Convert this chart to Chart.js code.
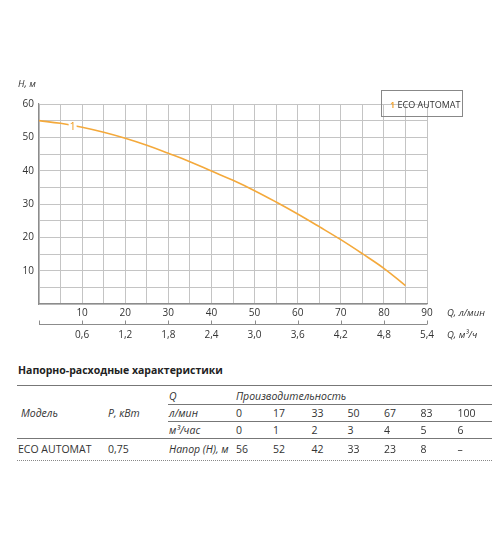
<!DOCTYPE html>
<html>
<head>
<meta charset="utf-8">
<script src="https://cdn.jsdelivr.net/npm/chart.js@4.4.1/dist/chart.umd.min.js"></script>
<style>
body{margin:0;background:#fff;}
#wrap{position:relative;width:500px;height:538px;font-family:"Open Sans",sans-serif;color:#333;}
#c{position:absolute;left:0;top:0;}
.t{position:absolute;white-space:nowrap;transform:translateY(-50%);line-height:1;}
.i{font-style:italic;}
.hl{position:absolute;height:0;border-top:1px solid #777;}
</style>
</head>
<body>
<div id="wrap">
  <canvas id="c" width="500" height="350"></canvas>
  <div class="t i" style="left:18px;top:84px;font-size:9.5px">H, м</div>
  <div class="t i" style="left:447px;top:313px;font-size:9.5px">Q, л/мин</div>
  <div class="t i" style="left:447px;top:335px;font-size:9.5px">Q, м³/ч</div>
  <div style="position:absolute;left:381px;top:90px;width:80px;height:25px;border:1px solid #888;"></div>
  <div class="t" style="left:390px;top:104px;font-size:9px"><span style="color:#f09a1a;font-weight:600">1</span> ECO AUTOMAT</div>
  <div id="table"></div>
</div>
<script>
// chart data
const curveQ = [0, 5, 10, 15, 20, 25, 30, 35, 40, 45, 50, 55, 60, 65, 70, 75, 80, 85];
const curveH = [55, 54.2, 53, 51.5, 49.7, 47.6, 45.2, 42.7, 39.9, 37.1, 34, 30.6, 27, 23.2, 19.3, 15.1, 10.7, 5.5];

// table data
const flowLpm = [0, 17, 33, 50, 67, 83, 100];
const flowM3 = [0, 1, 2, 3, 4, 5, 6];
const headM = ['56', '52', '42', '33', '23', '8', '–'];
const modelName = 'ECO AUTOMAT';
const powerKw = '0,75';

const orange = '#f4a93b';
const gridCol = '#c4c4c4';
const axisCol = '#8c8c8c';

const extras = {
  id: 'extras',
  afterDatasetsDraw(chart) {
    const ctx = chart.ctx;
    const xs = chart.scales.x, ys = chart.scales.y, x2 = chart.scales.x2;
    // curve number
    const px = xs.getPixelForValue(7.8), py = ys.getPixelForValue(53.2);
    ctx.save();
    ctx.font = '11px "Open Sans"';
    ctx.textAlign = 'center';
    ctx.textBaseline = 'middle';
    ctx.fillStyle = '#fff';
    ctx.fillRect(px - 4, py - 5, 8, 10);
    ctx.fillStyle = '#f09a1a';
    ctx.fillText('1', px, py);
    // second flow axis, ticks point up
    const y = Math.round(x2.top) + 0.5;
    ctx.strokeStyle = axisCol;
    ctx.lineWidth = 1;
    ctx.beginPath();
    ctx.moveTo(x2.left, y);
    ctx.lineTo(x2.right, y);
    x2.ticks.forEach(t => {
      const xx = Math.round(x2.getPixelForValue(t.value)) + 0.5;
      ctx.moveTo(xx, y);
      ctx.lineTo(xx, y - 4);
    });
    ctx.stroke();
    ctx.restore();
  }
};

new Chart(document.getElementById('c'), {
  type: 'line',
  data: {
    datasets: [{
      label: 'ECO AUTOMAT',
      data: curveQ.map((q, i) => ({x: q, y: curveH[i]})),
      borderColor: orange,
      borderWidth: 1.6,
      pointRadius: 0,
      tension: 0.4
    }]
  },
  options: {
    responsive: false,
    animation: false,
    layout: {padding: {left: 0, top: 104, right: 73, bottom: 1}},
    plugins: {legend: {display: false}, tooltip: {enabled: false}},
    scales: {
      x: {
        type: 'linear', position: 'bottom', weight: 0,
        min: 0, max: 90,
        afterFit: s => { s.height = 20; },
        grid: {color: gridCol, lineWidth: 1, drawTicks: false},
        border: {color: axisCol, width: 1.2},
        ticks: {
          stepSize: 5, autoSkip: false, maxRotation: 0, padding: 3,
          color: '#333', font: {family: 'Open Sans', size: 10},
          callback: v => (v > 0 && v % 10 === 0) ? String(v) : ''
        }
      },
      x2: {
        type: 'linear', position: 'bottom', weight: 1,
        min: 0, max: 5.4,
        afterFit: s => { s.height = 25; },
        grid: {display: false, drawTicks: false},
        border: {display: false},
        ticks: {
          stepSize: 0.6, autoSkip: false, maxRotation: 0, padding: 5,
          color: '#333', font: {family: 'Open Sans', size: 10},
          callback: v => v > 0 ? v.toFixed(1).replace('.', ',') : ''
        }
      },
      y: {
        type: 'linear', min: 0, max: 60,
        afterFit: s => { s.width = 39; },
        grid: {color: gridCol, lineWidth: 1, drawTicks: false},
        border: {color: axisCol, width: 1.2},
        ticks: {
          stepSize: 5, autoSkip: false, padding: 5,
          color: '#333', font: {family: 'Open Sans', size: 10},
          callback: v => (v > 0 && v % 10 === 0) ? String(v) : ''
        }
      }
    }
  },
  plugins: [extras]
});

// table under the chart
const tbl = document.getElementById('table');
function txt(s, x, y, opts) {
  const d = document.createElement('div');
  d.className = 't' + (opts && opts.italic ? ' i' : '');
  d.style.left = x + 'px';
  d.style.top = y + 'px';
  d.style.fontSize = (opts && opts.size ? opts.size : 10.5) + 'px';
  if (opts && opts.bold) d.style.fontWeight = 'bold';
  if (opts && opts.color) d.style.color = opts.color;
  d.innerHTML = s;
  tbl.appendChild(d);
}
function hline(x1, x2, y, dotted) {
  const d = document.createElement('div');
  d.className = 'hl';
  d.style.left = x1 + 'px';
  d.style.width = (x2 - x1) + 'px';
  d.style.top = y + 'px';
  if (dotted) d.style.borderTop = '1px dotted #888';
  tbl.appendChild(d);
}
const colX = [236, 273, 311.5, 347.5, 384, 420.5, 457.5];
const rowY = [396, 413, 430, 449];

txt('Напорно-расходные характеристики', 18, 370, {bold: true, size: 10.5, color: '#222'});
hline(17, 492, 385);
hline(168, 492, 404);
hline(168, 492, 421);
hline(17, 492, 438);
hline(17, 492, 460, true);

txt('Модель', 21, rowY[1], {italic: true});
txt('P, кВт', 108, rowY[1], {italic: true});
txt('Q', 169, rowY[0], {italic: true});
txt('Производительность', colX[0], rowY[0], {italic: true});
txt('л/мин', 169, rowY[1], {italic: true});
txt('м³/час', 169, rowY[2], {italic: true});
txt(modelName, 18, rowY[3]);
txt(powerKw, 108, rowY[3]);
txt('Напор (H), м', 169, rowY[3], {italic: true});
flowLpm.forEach((v, i) => txt(String(v), colX[i], rowY[1]));
flowM3.forEach((v, i) => txt(String(v), colX[i], rowY[2]));
headM.forEach((v, i) => txt(v, colX[i], rowY[3]));
</script>
</body>
</html>
